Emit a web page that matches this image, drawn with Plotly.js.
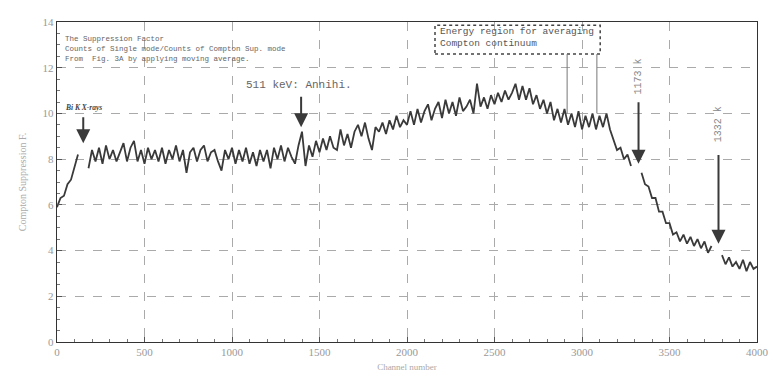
<!DOCTYPE html>
<html>
<head>
<meta charset="utf-8">
<script src="https://cdn.plot.ly/plotly-3.0.1.min.js"></script>
<style>html,body{margin:0;padding:0;background:#fff}#chart{width:776px;height:381px}</style>
</head>
<body>
<div id="chart"></div>
<script>
// Channel numbers (every 20 channels) and suppression factor values
var channels = [];
for (var c = 0; c <= 4000; c += 20) channels.push(c);

var factor = [
  5.9, 6.3, 6.4, 6.9, 7.1, 7.7, 8.2, null, null, 7.6,            // 0-180
  8.4, 7.9, 8.5, 7.8, 8.6, 8.0, 8.4, 7.9, 8.3, 8.7,              // 200-380
  7.9, 8.5, 8.8, 7.9, 8.4, 7.8, 8.5, 8.0, 8.4, 7.9,              // 400-580
  8.5, 7.8, 8.4, 8.0, 8.6, 7.9, 8.4, 7.4, 8.3, 8.5,              // 600-780
  7.9, 8.4, 8.6, 7.9, 8.3, 8.4, 7.9, 7.5, 8.4, 8.0,              // 800-980
  8.5, 7.8, 8.4, 7.9, 8.5, 7.8, 8.3, 7.7, 8.4, 7.9,              // 1000-1180
  8.4, 7.6, 8.5, 8.0, 8.6, 7.9, 8.5, 8.1, 7.8, 8.6,              // 1200-1380
  9.2, 7.7, 8.6, 8.1, 8.8, 8.3, 8.9, 8.4, 9.0, 8.5,              // 1400-1580
  8.4, 9.3, 8.6, 9.1, 8.5, 9.2, 9.5, 9.0, 9.6, 8.9,              // 1600-1780
  8.4, 9.4, 9.2, 9.6, 9.1, 9.7, 9.3, 9.9, 9.4, 9.7,              // 1800-1980
  9.5, 10.1, 9.5, 10.2, 9.6, 10.1, 10.4, 9.7, 10.2, 10.5,        // 2000-2180
  9.8, 10.6, 10.0, 10.5, 9.9, 10.7, 10.1, 10.3, 10.6, 10.0,      // 2200-2380
  11.3, 10.3, 10.7, 10.2, 10.8, 10.4, 10.9, 10.5, 11.0, 10.6,    // 2400-2580
  10.9, 11.3, 10.6, 11.2, 10.6, 11.1, 10.4, 10.8, 10.2, 10.6,    // 2600-2780
  10.0, 10.5, 9.7, 10.2, 9.6, 10.2, 9.5, 10.0, 9.4, 10.1,        // 2800-2980
  9.3, 9.9, 9.4, 10.0, 9.3, 9.9, 9.4, 10.0, 9.3, 8.8,            // 3000-3180
  8.4, 8.5, 8.0, 8.2, 7.7, null, null, 7.4, 6.9, 6.8,            // 3200-3380
  6.3, 6.3, 5.7, 5.7, 5.2, 5.2, 4.7, 4.8, 4.4, 4.7,              // 3400-3580
  4.3, 4.6, 4.2, 4.5, 4.1, 4.4, 3.9, 4.2, null, null,            // 3600-3780
  3.8, 3.4, 3.7, 3.3, 3.5, 3.2, 3.6, 3.1, 3.5, 3.2,              // 3800-3980
  3.3                                                            // 4000
];

var xTicks = [0, 500, 1000, 1500, 2000, 2500, 3000, 3500, 4000];
var yTicks = [0, 2, 4, 6, 8, 10, 12, 14];

var noteLines = ["The Suppression Factor",
                 "Counts of Single mode/Counts of Compton Sup. mode",
                 "From  Fig. 3A by applying moving average."];
var boxLines = ["Energy region for averaging", "Compton continuum"];

var mono = "Liberation Mono, DejaVu Sans Mono, monospace";
var ink = "#3a3a3a";

var trace = {
  x: channels, y: factor, type: "scatter", mode: "lines",
  line: {color: ink, width: 1.8}, connectgaps: false, hoverinfo: "skip"
};

function arrow(x, yTip, yTail) {
  return {x: x, y: yTip, ax: x, ay: yTail, xref: "x", yref: "y", axref: "x", ayref: "y",
          text: "", showarrow: true, arrowhead: 2, arrowsize: 1.4, arrowwidth: 2, arrowcolor: ink};
}

var layout = {
  width: 776, height: 381,
  margin: {l: 57, r: 19, t: 22, b: 39},
  paper_bgcolor: "#fff", plot_bgcolor: "#fff",
  showlegend: false,
  font: {family: "Liberation Serif, DejaVu Serif, serif", color: "#999", size: 11},
  xaxis: {
    range: [0, 4000], tickvals: xTicks, ticktext: xTicks.map(String),
    showline: true, linecolor: "#333", linewidth: 1.2, mirror: true,
    ticks: "inside", ticklen: 5, tickcolor: "#555",
    minor: {dtick: 100, ticks: "inside", ticklen: 3, tickcolor: "#777", showgrid: false},
    showgrid: true, gridcolor: "#aaa", griddash: "dash", gridwidth: 1,
    zeroline: false, tickfont: {size: 11, color: "#999"},
    title: {text: "Channel number", font: {size: 9, color: "#aaa"}, standoff: 6}
  },
  yaxis: {
    range: [0, 14], tickvals: yTicks, ticktext: yTicks.map(String),
    showline: true, linecolor: "#333", linewidth: 1.2, mirror: true,
    ticks: "inside", ticklen: 5, tickcolor: "#555",
    minor: {dtick: 0.5, ticks: "inside", ticklen: 3, tickcolor: "#777", showgrid: false},
    showgrid: true, gridcolor: "#aaa", griddash: "dash", gridwidth: 1,
    zeroline: false, tickfont: {size: 11, color: "#999"},
    title: {text: "Compton Suppression F.", font: {size: 10, color: "#aaa"}, standoff: 14}
  },
  shapes: [
    {type: "rect", xref: "paper", yref: "paper", x0: 0.54, x1: 0.776, y0: 0.9, y1: 0.99,
     line: {color: "#444", width: 1.5, dash: "dot"}, fillcolor: "rgba(0,0,0,0)"},
    {type: "line", xref: "x", yref: "y", x0: 2915, x1: 2915, y0: 10.0, y1: 12.6, line: {color: "#777", width: 1}},
    {type: "line", xref: "x", yref: "y", x0: 3085, x1: 3085, y0: 10.0, y1: 12.6, line: {color: "#777", width: 1}}
  ],
  annotations: [
    {xref: "paper", yref: "paper", x: 0.009, y: 0.965, xanchor: "left", yanchor: "top", align: "left",
     showarrow: false, text: noteLines.join("<br>"), font: {family: mono, size: 7.5, color: "#666"}},
    {xref: "paper", yref: "paper", x: 0.544, y: 0.993, xanchor: "left", yanchor: "top", align: "left",
     showarrow: false, text: boxLines.join("<br>"), font: {family: mono, size: 9.5, color: "#555"}},
    {xref: "x", yref: "y", x: 150, y: 10.25, showarrow: false,
     text: "<b><i>Bi K X-rays</i></b>", font: {size: 7.5, color: "#444"}},
    arrow(150, 8.7, 9.9),
    {xref: "x", yref: "y", x: 1380, y: 11.25, showarrow: false,
     text: "511 keV: Annihi.", font: {family: mono, size: 11, color: "#666"}},
    arrow(1395, 9.4, 10.8),
    {xref: "x", yref: "y", x: 3323, y: 11.6, showarrow: false, textangle: -90,
     text: "1173 k", font: {family: mono, size: 10, color: "#888"}},
    arrow(3323, 7.8, 10.55),
    {xref: "x", yref: "y", x: 3780, y: 9.5, showarrow: false, textangle: -90,
     text: "1332 k", font: {family: mono, size: 10, color: "#888"}},
    arrow(3780, 4.3, 8.25)
  ]
};

Plotly.newPlot("chart", [trace], layout, {displayModeBar: false, staticPlot: true});
</script>
</body>
</html>
